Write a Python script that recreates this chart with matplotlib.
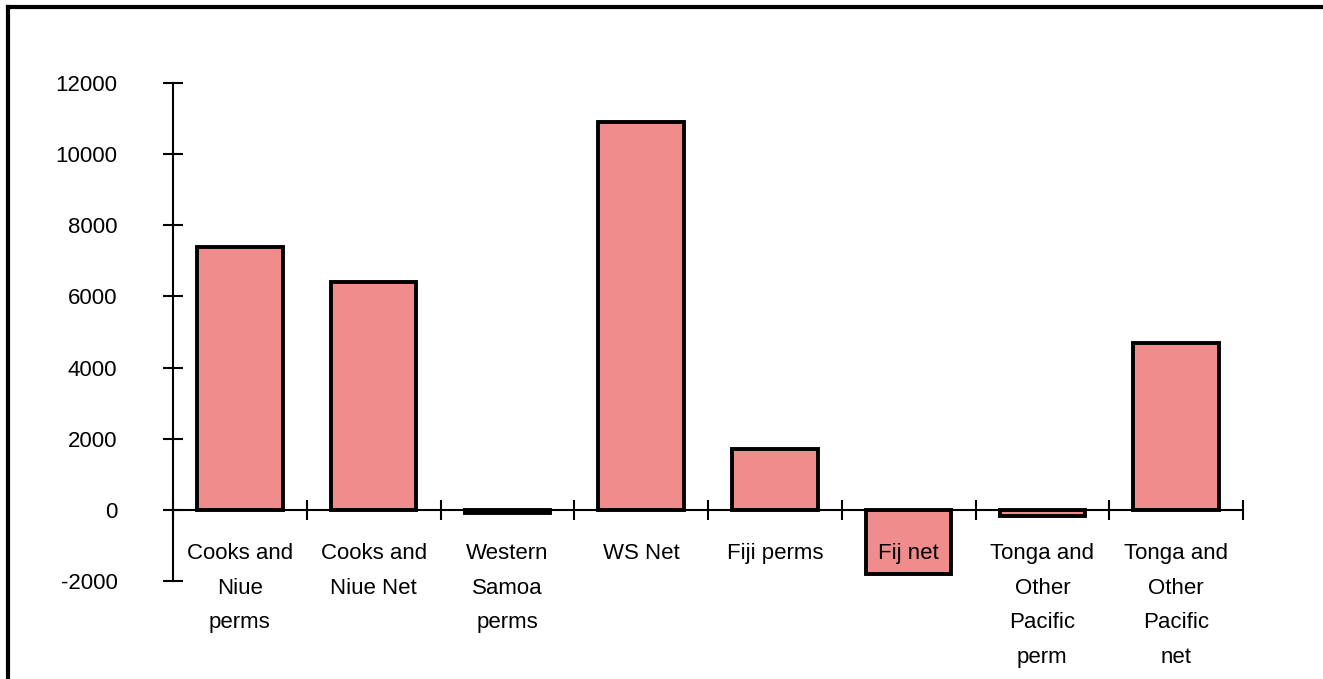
import matplotlib
matplotlib.use('Agg')
from matplotlib import pyplot as plt
from matplotlib.lines import Line2D
import numpy as np

plt.rcParams['font.family'] = ['Liberation Sans', 'DejaVu Sans']

categories = ['Cooks and\nNiue\nperms', 'Cooks and\nNiue Net', 'Western\nSamoa\nperms', 'WS Net',
              'Fiji perms', 'Fij net', 'Tonga and\nOther\nPacific\nperm', 'Tonga and\nOther\nPacific\nnet']
values = [7400, 6400, -100, 10900, 1700, -1800, -170, 4700]
yticks = [-2000, 0, 2000, 4000, 6000, 8000, 10000, 12000]

W, H = 1323, 679
fig = plt.figure(figsize=(W / 100, H / 100), dpi=100)
ax = fig.add_axes([173 / W, (H - 581) / H, (1243 - 173) / W, (581 - 83) / H])

x = np.arange(len(categories))
ax.bar(x, values, width=0.64, color='#f08c8c', edgecolor='black', linewidth=2.8, zorder=1)
ax.set_axisbelow(False)

ax.set_xlim(-0.5, len(categories) - 0.5)
ax.set_ylim(-2000, 12000)

for s in ['top', 'right']:
    ax.spines[s].set_visible(False)
ax.spines['bottom'].set_position(('data', 0))
ax.spines['left'].set_linewidth(1.5)
ax.spines['bottom'].set_linewidth(1.5)

ax.set_yticks(yticks)
ax.set_yticklabels([str(v) for v in yticks], fontsize=16)
ax.tick_params(axis='y', direction='inout', length=14, width=1.5, pad=33)

ax.set_xticks(x)
ax.set_xticklabels(categories, fontsize=16, linespacing=1.85, va='top')
ax.tick_params(axis='x', which='major', length=0, pad=24)
ax.set_xticks(np.arange(len(categories) + 1) - 0.5, minor=True)
ax.tick_params(axis='x', which='minor', direction='inout', length=14, width=1.5)

# outer frame: top and left edges only
fig.lines.append(Line2D([8 / W, 1], [1 - 7 / H, 1 - 7 / H], transform=fig.transFigure, color='black', linewidth=3))
fig.lines.append(Line2D([8 / W, 8 / W], [0, 1 - 7 / H], transform=fig.transFigure, color='black', linewidth=3))

fig.savefig('out.png', dpi=100)
